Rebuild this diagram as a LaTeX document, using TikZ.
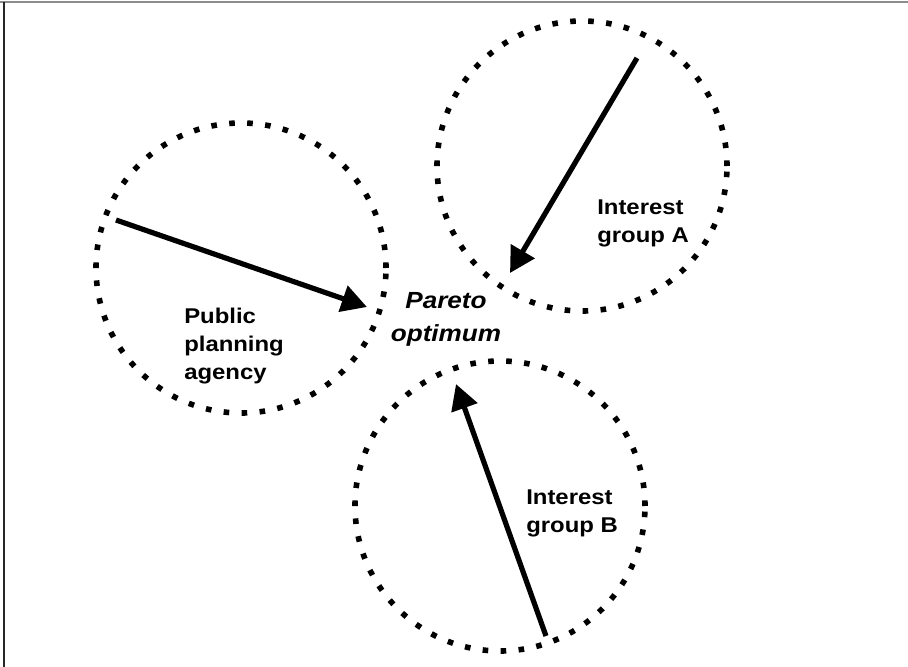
\documentclass[tikz,border=0pt]{standalone}
\usepackage{fontspec}
\setmainfont{Liberation Sans}
\newfontfamily\widesans[FakeStretch=1.12]{Liberation Sans}
\usetikzlibrary{arrows.meta}

\begin{document}
\begin{tikzpicture}[x=0.75pt,y=-0.75pt,
    zone/.style={circle,draw,line width=4.2pt,dash pattern=on 4.2pt off 9.3pt,
      minimum size=217.5pt,inner sep=0pt},
    who/.style={font=\widesans\bfseries\fontsize{16}{21}\selectfont,
      align=left,anchor=base west,inner sep=0pt},
    push/.style={line width=3.9pt,-{Triangle[length=19pt,width=20pt]}}]
  \useasboundingbox (0,0) rectangle (908,667);
  \draw[black!45,line width=1.5pt] (0,2) -- (908,2);
  \draw[black!85,line width=1.5pt] (4,2) -- (4,667);

  % the three parties
  \node[zone] (agencyzone) at (241,268) {};
  \node[zone] (azone) at (582,166) {};
  \node[zone] (bzone) at (500,506) {};

  % base is the last line of each label
  \node[who] (agency) at (184,379) {Public\\planning\\agency};
  \node[who] (groupa) at (597,243) {Interest\\group A};
  \node[who] (groupb) at (526,532) {Interest\\group B};
  \node[font=\widesans\bfseries\itshape\fontsize{17.5}{24.75}\selectfont,
    align=center,anchor=base,inner sep=0pt] (pareto) at (446,341) {Pareto\\optimum};

  % pulls towards the optimum
  \coordinate (agencytail) at (116,220);
  \coordinate (agencytip) at (367,307);
  \coordinate (atail) at (637,58);
  \coordinate (atip) at (510,273);
  \coordinate (btail) at (546,636);
  \coordinate (btip) at (456,384);
  \draw[push] (agencytail) -- (agencytip);
  \draw[push] (atail) -- (atip);
  \draw[push] (btail) -- (btip);
\end{tikzpicture}
\end{document}
